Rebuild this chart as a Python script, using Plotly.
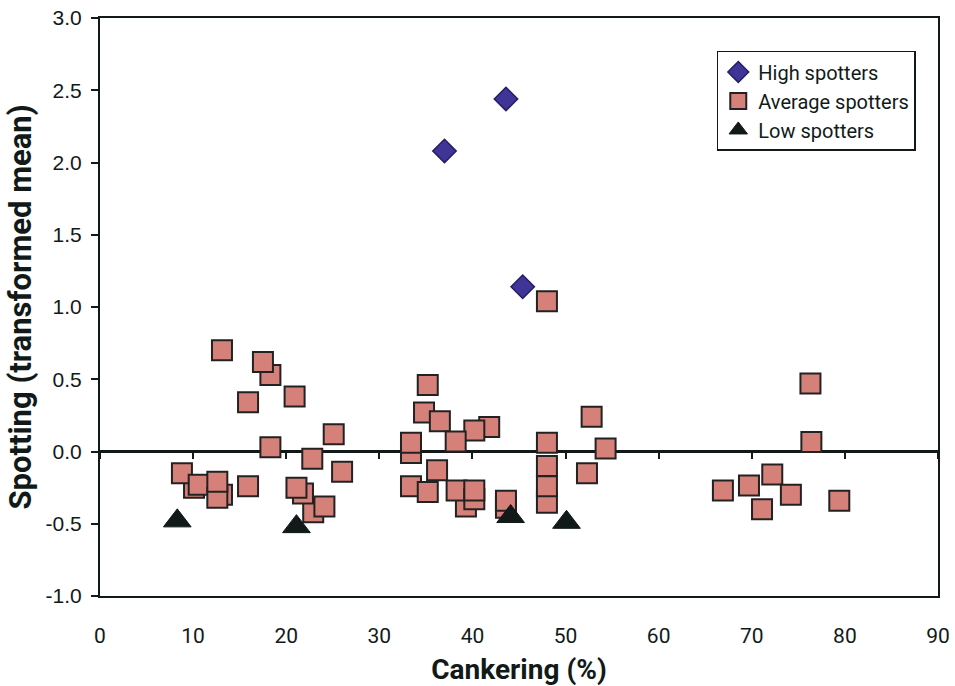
import plotly.graph_objects as go

# High spotters
high_x = [37.0, 43.6, 45.4]
high_y = [2.08, 2.44, 1.14]

# Average spotters
avg_x = [10.1, 8.8, 10.6, 13.1, 12.6, 12.6, 13.1, 15.9, 18.3, 17.5, 15.9, 20.9, 25.1,
         18.3, 22.8, 26.0, 22.9, 24.1, 21.8, 21.1,
         33.4, 33.4, 35.2, 34.8, 36.5, 41.8, 40.2, 38.2, 36.2, 33.4, 35.2, 39.3, 38.3,
         40.2, 40.2, 43.6, 43.6,
         48.0, 48.0, 48.0, 48.0, 48.0, 52.8, 54.3, 52.3,
         76.3, 76.4, 66.9, 69.7, 72.2, 74.2, 71.1, 79.4]
avg_y = [-0.25, -0.15, -0.23, -0.30, -0.32, -0.21, 0.70, 0.34, 0.53, 0.62, -0.24, 0.38, 0.12,
         0.03, -0.05, -0.14, -0.42, -0.38, -0.29, -0.25,
         -0.01, 0.06, 0.46, 0.27, 0.21, 0.17, 0.145, 0.07, -0.13, -0.24, -0.28, -0.38, -0.27,
         -0.33, -0.27, -0.39, -0.34,
         1.04, -0.355, -0.24, -0.10, 0.06, 0.24, 0.02, -0.15,
         0.47, 0.065, -0.27, -0.235, -0.16, -0.30, -0.40, -0.34]

# Low spotters
low_x = [8.3, 21.1, 44.1, 50.1]
low_y = [-0.48, -0.52, -0.45, -0.49]

x_ticks = [0, 10, 20, 30, 40, 50, 60, 70, 80, 90]
y_ticks = [-1.0, -0.5, 0.0, 0.5, 1.0, 1.5, 2.0, 2.5, 3.0]
y_tick_labels = ["-1.0", "-0.5", "0.0", "0.5", "1.0", "1.5", "2.0", "2.5", "3.0"]

NARROW = "Roboto, Liberation Sans, Arial, sans-serif"
REG = "Liberation Sans, Arial, sans-serif"
INK = "#111a18"

fig = go.Figure()
fig.add_trace(go.Scatter(
    x=high_x, y=high_y, mode="markers", name="High spotters",
    marker=dict(symbol="diamond", size=18, color="#3f3596",
                line=dict(color="#241d66", width=1.5))))
fig.add_trace(go.Scatter(
    x=avg_x, y=avg_y, mode="markers", name="Average spotters",
    marker=dict(symbol="square", size=20, color="#d6807a",
                line=dict(color="#222222", width=2))))
fig.add_trace(go.Scatter(
    x=low_x, y=low_y, mode="markers", name="Low spotters",
    marker=dict(symbol="triangle-up", size=24, color=INK,
                line=dict(color=INK, width=1))))
# carrier for the zero-crossing tick axis
fig.add_trace(go.Scatter(x=[None], y=[None], xaxis="x2", showlegend=False,
                         hoverinfo="skip", mode="markers"))

fig.update_layout(
    width=955, height=686,
    margin=dict(l=100, r=17, t=18, b=90),
    paper_bgcolor="white", plot_bgcolor="white",
    showlegend=True,
    legend=dict(x=0.736, y=0.943, xanchor="left", yanchor="top",
                bordercolor=INK, borderwidth=1.5, bgcolor="white",
                font=dict(family=NARROW, size=20, color=INK),
                itemsizing="trace", tracegroupgap=0, itemwidth=30),
    xaxis=dict(range=[0, 90], tickvals=x_ticks, ticktext=[str(v) for v in x_ticks],
               showgrid=False, zeroline=False, showline=True, mirror=True,
               linecolor=INK, linewidth=2, ticks="", ticklabelstandoff=20,
               automargin=False,
               tickfont=dict(family=NARROW, size=21, color=INK),
               title=dict(text="<b>Cankering (%)</b>", standoff=12,
                          font=dict(family=NARROW, size=28, color=INK))),
    xaxis2=dict(range=[0, 90], tickvals=x_ticks, overlaying="x", anchor="free",
                position=0.25, showgrid=False, zeroline=False, showline=False,
                ticks="outside", ticklen=6, tickwidth=2, tickcolor=INK,
                showticklabels=False),
    yaxis=dict(range=[-1, 3], tickvals=y_ticks, ticktext=y_tick_labels,
               showgrid=False, zeroline=True, zerolinecolor=INK, zerolinewidth=2.5,
               showline=True, mirror=True, linecolor=INK, linewidth=2,
               ticks="outside", ticklen=7, tickwidth=2, tickcolor=INK,
               ticklabelstandoff=5, automargin=False,
               tickfont=dict(family=REG, size=21, color=INK),
               title=dict(text="<b>Spotting (transformed mean)</b>", standoff=5,
                          font=dict(family=NARROW, size=31, color=INK))),
)

fig.write_html("out.html", config={"displayModeBar": False},
               post_script="document.body.style.margin='0';")
